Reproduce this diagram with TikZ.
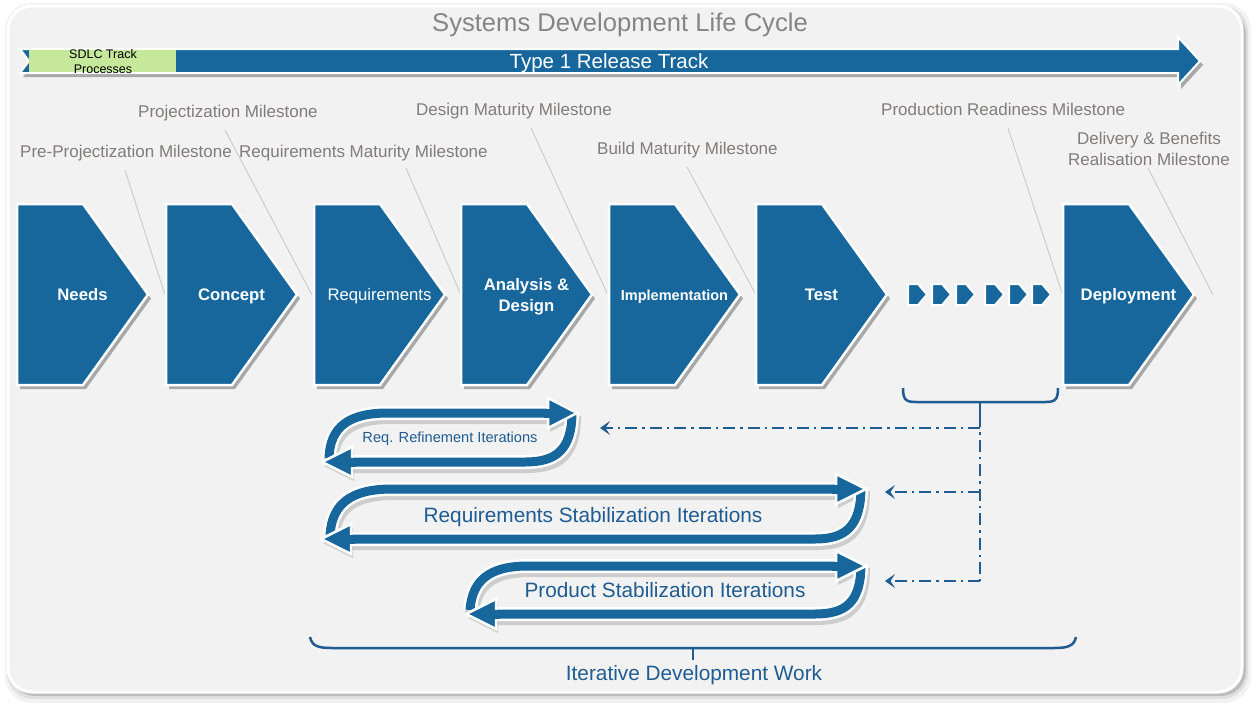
\documentclass[tikz,border=0pt]{standalone}
\usepackage{fontspec}
\setmainfont{Liberation Sans}
\usetikzlibrary{shadows,arrows.meta}
\definecolor{sblue}{RGB}{23,102,156}
\definecolor{tblue}{RGB}{30,92,145}
\definecolor{mgray}{RGB}{128,125,122}
\definecolor{ttlgray}{RGB}{133,133,133}
\definecolor{lgray}{RGB}{205,205,205}
\definecolor{panelgray}{RGB}{242,242,242}
\definecolor{sgreen}{RGB}{198,232,155}
\tikzset{
  chev/.style={fill=sblue, draw=white, line width=2.5pt, line join=miter,
    drop shadow={shadow xshift=3pt, shadow yshift=-4pt, opacity=0.3, fill=black}},
  minichev/.style={fill=sblue, draw=white, line width=2pt, line join=miter},
  clabel/.style={text=white, font=\bfseries\fontsize{16.7}{18}\selectfont, inner sep=0pt, anchor=base},
  mlabel/.style={text=mgray, font=\fontsize{17}{21}\selectfont, inner sep=0pt, anchor=base west},
  leader/.style={draw=lgray, line width=1pt},
  ilabel/.style={text=tblue, inner sep=0pt, anchor=base},
  ushw/.style={draw=white, line width=14pt},
  ushb/.style={draw=sblue, line width=9pt},
  ushadow/.style={draw=black, opacity=0.15, line width=14pt},
  hshadow/.style={fill=black, opacity=0.15},
  uhead/.style={fill=sblue, draw=white, line width=2.5pt, line join=miter},
  bracestyle/.style={draw=tblue, line width=2.5pt},
  dd/.style={draw=tblue, line width=2pt, dash pattern=on 12pt off 5pt on 2.5pt off 5pt},
  ddarrow/.style={dd, -{Stealth[length=10pt,width=14pt,inset=4.5pt]}}
}
\begin{document}
\begin{tikzpicture}[x=1pt,y=-1pt]
\useasboundingbox (0,0) rectangle (1258,710);
% panel
\fill[black!5, rounded corners=27pt] (5,3) rectangle (1251,703);
\fill[black!12, rounded corners=26pt] (7,6) rectangle (1248,699);
\fill[black!26, rounded corners=25pt] (10,9) rectangle (1246,696);
\filldraw[fill=panelgray, draw=white, line width=3pt, rounded corners=24pt] (8,6) rectangle (1242,692);

% title
\node[text=ttlgray, font=\fontsize{25.6}{30}\selectfont, inner sep=0pt, anchor=base] (title) at (620,31) {Systems Development Life Cycle};

% release track arrow
\path[chev, line width=2pt] (20,49) -- (1178,49) -- (1178,37) -- (1200,61) -- (1178,85) -- (1178,73) -- (20,73) -- (29,61) -- cycle;
\node[fill=sgreen, minimum width=147pt, minimum height=22pt, anchor=north west, inner sep=0pt] (sdlcbox) at (29,50) {};
\node[align=center, font=\fontsize{12.5}{15.5}\selectfont, inner sep=0pt] (sdlc) at (103,61.5) {SDLC Track\\Processes};
\node[text=white, font=\fontsize{20.5}{24}\selectfont, inner sep=0pt, anchor=base] (track) at (609,68) {Type 1 Release Track};

% milestone labels
\node[mlabel] (m1) at (20,157) {Pre-Projectization Milestone};
\node[mlabel] (m2) at (138,117) {Projectization Milestone};
\node[mlabel] (m3) at (239,157) {Requirements Maturity Milestone};
\node[mlabel] (m4) at (416,115) {Design Maturity Milestone};
\node[mlabel] (m5) at (597,154) {Build Maturity Milestone};
\node[mlabel] (m6) at (881,115) {Production Readiness Milestone};
\node[text=mgray, font=\fontsize{17}{21}\selectfont, inner sep=0pt, anchor=base] (m7a) at (1149,144) {Delivery \& Benefits};
\node[text=mgray, font=\fontsize{17}{21}\selectfont, inner sep=0pt, anchor=base] (m7b) at (1149,165) {Realisation Milestone};

% leader lines
\coordinate (l1s) at (125,170); \coordinate (l1e) at (165,295);
\coordinate (l2s) at (225,130); \coordinate (l2e) at (312,295);
\coordinate (l3s) at (406,168); \coordinate (l3e) at (461,295);
\coordinate (l4s) at (531,128); \coordinate (l4e) at (607,293);
\coordinate (l5s) at (687,167); \coordinate (l5e) at (755,293);
\coordinate (l6s) at (1008,128); \coordinate (l6e) at (1062,293);
\coordinate (l7s) at (1148,168); \coordinate (l7e) at (1213,295);
\foreach \i in {1,...,7} { \draw[leader] (l\i s) -- (l\i e); }

% chevrons
\foreach \x in {17,166,314,461,609,756,1063} {
  \path[chev] (\x,204) -- ++(66,0) -- ++(65,90.5) -- ++(-65,90.5) -- ++(-66,0) -- cycle;
}
\foreach \x in {908,932,956,985,1009,1032} {
  \path[minichev] (\x,284) -- ++(10,0) -- ++(9,10.5) -- ++(-9,10.5) -- ++(-10,0) -- cycle;
}
\node[clabel] (needs) at (82.5,300) {Needs};
\node[clabel] (concept) at (231.5,300) {Concept};
\node[clabel, font=\fontsize{16.7}{18}\selectfont] (reqs) at (379.5,300) {Requirements};
\node[clabel] (anl) at (526.5,290) {Analysis \&};
\node[clabel] (anl2) at (526.5,311) {Design};
\node[clabel, font=\bfseries\fontsize{14.5}{16}\selectfont] (impl) at (674.5,300) {Implementation};
\node[clabel] (test) at (821.5,300) {Test};
\node[clabel] (deploy) at (1128.5,300) {Deployment};

% brace under dots
\draw[bracestyle] (903,388) .. controls (903,400) and (906,402) .. (916,402) -- (1045,402) .. controls (1055,402) and (1058,400) .. (1058,388);
\coordinate (tick) at (980,415);
\draw[bracestyle] (980,402) -- (tick);

% U-turn arrows
\def\Aa{(329,458) .. controls (330,426) and (350,413) .. (388,413) -- (550,413)}
\def\Ab{(572,412) .. controls (572,450) and (556,462) .. (525,462) -- (350,462)}
\def\Ah{(548,398) -- (577,413) -- (548,428) -- cycle}
\def\Bh{(352,447) -- (322,462) -- (352,477) -- cycle}
\def\Ca{(330,535) .. controls (332,503) and (352,489) .. (392,489) -- (838,489)}
\def\Cb{(861,487) .. controls (861,527) and (845,539) .. (815,539) -- (350,539)}
\def\Ch{(836,474) -- (866,489) -- (836,504) -- cycle}
\def\Dh{(351,524) -- (321,539) -- (351,554) -- cycle}
\def\Ea{(470,610) .. controls (472,580) and (490,566) .. (528,566) -- (838,566)}
\def\Eb{(861,564) .. controls (861,603) and (845,614) .. (815,614) -- (495,614)}
\def\Eh{(836,551) -- (866,566) -- (836,581) -- cycle}
\def\Fh{(496,599) -- (466,614) -- (496,629) -- cycle}

\begin{scope}[shift={(2,4)}]
\draw[ushadow] \Aa; \draw[ushadow] \Ab; \fill[hshadow] \Ah; \fill[hshadow] \Bh;
\draw[ushadow] \Ca; \draw[ushadow] \Cb; \fill[hshadow] \Ch; \fill[hshadow] \Dh;
\draw[ushadow] \Ea; \draw[ushadow] \Eb; \fill[hshadow] \Eh; \fill[hshadow] \Fh;
\end{scope}

\draw[ushw] \Aa; \draw[ushb] \Aa; \draw[ushw] \Ab; \draw[ushb] \Ab;
\path[uhead] \Bh; \draw[ushb] (349,462) -- (356,462);
\path[uhead] \Ah; \draw[ushb] (544,413) -- (551,413);

\draw[ushw] \Ca; \draw[ushb] \Ca; \draw[ushw] \Cb; \draw[ushb] \Cb;
\path[uhead] \Dh; \draw[ushb] (348,539) -- (355,539);
\path[uhead] \Ch; \draw[ushb] (832,489) -- (839,489);

\draw[ushw] \Ea; \draw[ushb] \Ea; \draw[ushw] \Eb; \draw[ushb] \Eb;
\path[uhead] \Fh; \draw[ushb] (493,614) -- (500,614);
\path[uhead] \Eh; \draw[ushb] (832,566) -- (839,566);

\node[ilabel, font=\fontsize{14.6}{17}\selectfont] (it1) at (450,442) {Req. Refinement Iterations};
\node[ilabel, font=\fontsize{20.8}{24}\selectfont] (it2) at (593,522) {Requirements Stabilization Iterations};
\node[ilabel, font=\fontsize{20.8}{24}\selectfont] (it3) at (665,597) {Product Stabilization Iterations};

% dash-dot feedback lines
\coordinate (j1) at (980,428); \coordinate (t1) at (600,428);
\coordinate (j2) at (980,492); \coordinate (t2) at (885,492);
\coordinate (j3) at (980,581); \coordinate (t3) at (885,581);
\draw[dd] (tick) -- (j3);
\draw[ddarrow] (j1) -- (t1);
\draw[ddarrow] (j2) -- (t2);
\draw[ddarrow] (j3) -- (t3);

% bottom brace
\draw[bracestyle] (310,637) .. controls (312,646) and (318,648) .. (332,648) -- (1054,648) .. controls (1068,648) and (1074,646) .. (1076,637);
\coordinate (btick) at (693,660);
\draw[bracestyle] (693,648) -- (btick);
\node[ilabel, font=\fontsize{20.8}{24}\selectfont] (iter) at (694,680) {Iterative Development Work};
\end{tikzpicture}
\end{document}
